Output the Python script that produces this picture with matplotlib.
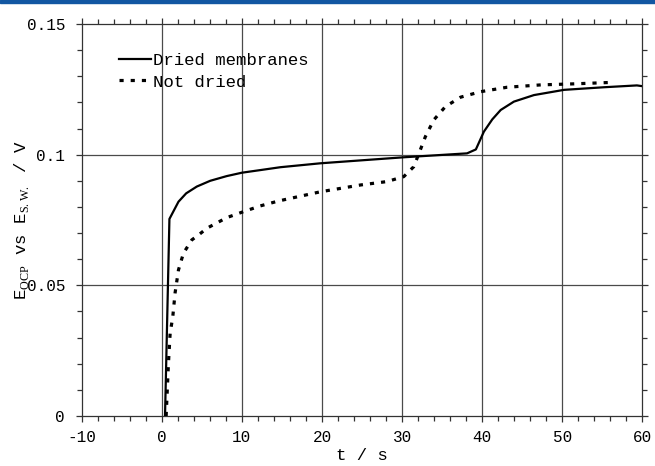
import matplotlib
matplotlib.use("Agg")
import matplotlib.pyplot as plt
from matplotlib.ticker import MultipleLocator, FuncFormatter
from matplotlib.patches import Rectangle

# Open-circuit potential vs time for the two membrane treatments
t_dried = [0.4, 0.95, 2.08, 3.04, 4.37, 6.04, 8.1, 10.0, 12.3, 14.8, 19.8,
           30.2, 38.1, 39.2, 40.2, 41.25, 42.3, 43.95, 46.45, 50.2, 55.2, 59.3, 60.0]
e_dried = [0.0, 0.0754, 0.0820, 0.0852, 0.0878, 0.0900, 0.0918, 0.0931, 0.0941,
           0.0952, 0.0967, 0.0990, 0.1005, 0.1020, 0.1088, 0.1135, 0.1171, 0.1203,
           0.1228, 0.1248, 0.1258, 0.1265, 0.1262]

t_wet = [0.54, 0.83, 1.04, 1.37, 1.66, 2.08, 2.7, 3.75, 4.6, 5.6, 8.1, 10.2, 12.3,
         14.6, 19.8, 24.8, 28.1, 30.2, 31.45, 32.1, 32.9, 33.95, 35.4, 37.3, 39.8,
         43.1, 47.3, 51.45, 55.7]
e_wet = [0.0, 0.0203, 0.0317, 0.0380, 0.0472, 0.0559, 0.0623, 0.0674, 0.0693,
         0.0718, 0.0759, 0.0782, 0.0804, 0.0823, 0.0858, 0.0884, 0.0897, 0.0916,
         0.0954, 0.1005, 0.1069, 0.1133, 0.1184, 0.1220, 0.1241, 0.1258, 0.1267,
         0.1271, 0.1276]

series_labels = ["Dried membranes", "Not dried"]

plt.rcParams["font.family"] = ["Liberation Mono", "DejaVu Sans"]
plt.rcParams["mathtext.fontset"] = "custom"
plt.rcParams["mathtext.rm"] = "Liberation Serif"
plt.rcParams["axes.unicode_minus"] = False

fig = plt.figure(figsize=(6.55, 4.66), dpi=100)
ax = fig.add_axes([81.7 / 655, 1 - 416 / 466, (642.5 - 81.7) / 655, (416 - 24) / 466])

# header stripe
fig.patches.append(Rectangle((0, 1 - 2.5 / 466), 1, 2.5 / 466,
                             transform=fig.transFigure, color="#1257a2", zorder=5))

grid_c = "#4a4a4a"
for gx in [0, 10, 20, 30, 40, 50]:
    ax.axvline(gx, color=grid_c, lw=0.9, zorder=1)
for gy in [0.05, 0.1]:
    ax.axhline(gy, color=grid_c, lw=0.9, zorder=1)

ax.plot(t_dried, e_dried, color="black", lw=1.6, solid_joinstyle="round",
        label=series_labels[0], zorder=3)
ax.plot(t_wet, e_wet, color="black", lw=2.3, linestyle=(0, (1.3, 2.2)),
        dash_capstyle="butt", label=series_labels[1], zorder=3)

ax.set_xlim(-10, 60)
ax.set_ylim(0, 0.15)
ax.xaxis.set_major_locator(MultipleLocator(10))
ax.xaxis.set_minor_locator(MultipleLocator(2))
ax.yaxis.set_major_locator(MultipleLocator(0.05))
ax.yaxis.set_minor_locator(MultipleLocator(0.01))
ax.yaxis.set_major_formatter(FuncFormatter(lambda v, p: "0" if abs(v) < 1e-9 else f"{v:g}"))

for s in ax.spines.values():
    s.set_color("#333333")
    s.set_linewidth(0.9)

ax.tick_params(which="both", direction="out", top=True, right=True,
               color="#333333", width=0.9)
ax.tick_params(which="major", length=4, labelsize=11.5, pad=6)
ax.tick_params(which="minor", length=3.5)
ax.tick_params(axis="y", which="major", pad=8)
ax.tick_params(axis="x", labeltop=False)
ax.tick_params(axis="y", labelright=False)

ax.set_xlabel("t / s", fontsize=12.5, labelpad=2)
ax.set_ylabel(r"E$_{\mathrm{OCP}}$ vs E$_{\mathrm{S.W.}}$ / V", fontsize=12.5)
ax.yaxis.set_label_coords(-0.09, 0.5)

leg = ax.legend(loc="upper left", bbox_to_anchor=(0.067, 0.927), frameon=False,
                fontsize=12.5, handlelength=1.85, handletextpad=0.1,
                labelspacing=0.38, borderpad=0, borderaxespad=0)

fig.savefig("out.png", dpi=100, facecolor="white")
